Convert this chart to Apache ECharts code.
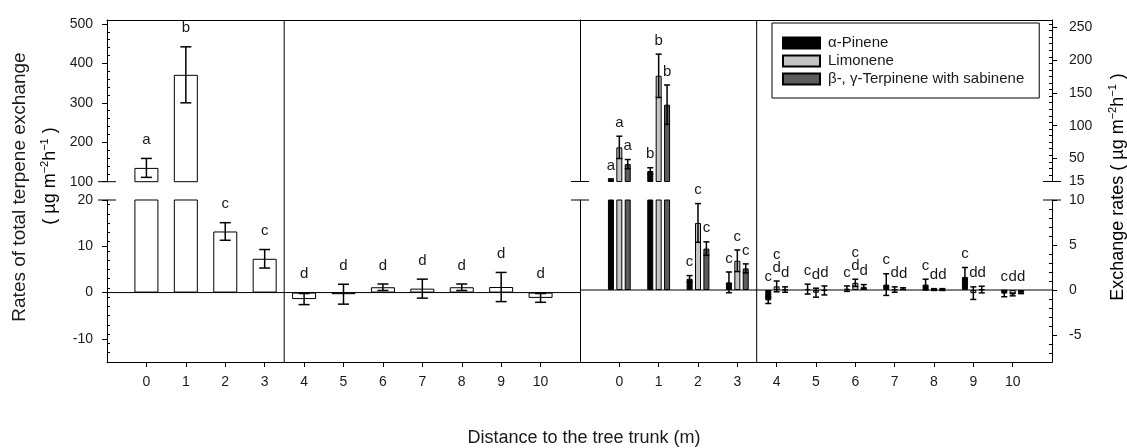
<!DOCTYPE html>
<html>
<head>
<meta charset="utf-8">
<title>Terpene exchange vs distance to the tree trunk</title>
<script src="https://cdn.jsdelivr.net/npm/echarts@6/dist/echarts.min.js"></script>
<style>
  html, body { margin: 0; padding: 0; background: #fff; }
  #chart { width: 1127px; height: 448px; }
</style>
</head>
<body>
<div id="chart"></div>
<script>
// distance to the tree trunk (m)
var distances = [0, 1, 2, 3, 4, 5, 6, 7, 8, 9, 10];

// left panel: total terpene exchange, mean and error
var totalMean = [135, 371, 13.2, 7.3, -1.4, -0.35, 1.15, 0.85, 1.15, 1.2, -1.15];
var totalErr = [24, 71, 1.9, 2.0, 1.2, 2.15, 0.7, 2.05, 0.7, 3.15, 0.95];
var totalLetters = ['a', 'b', 'c', 'c', 'd', 'd', 'd', 'd', 'd', 'd', 'd'];

// right panel: single compounds
var compounds = ['α-Pinene', 'Limonene', 'β-, γ-Terpinene with sabinene'];
var pineneMean = [18, 31, 1.25, 0.85, -1.15, 0.1, 0.15, 0.6, 0.6, 1.45, -0.4];
var pineneErr = [1, 5, 0.35, 1.15, 0.35, 0.55, 0.3, 1.2, 0.6, 1.05, 0.35];
var pineneLetters = ['a', 'b', 'c', 'c', 'c', 'c', 'c', 'c', 'c', 'c', 'c'];
var limoneneMean = [67, 176, 7.45, 3.25, 0.4, -0.3, 0.8, 0.05, 0.05, -0.35, -0.5];
var limoneneErr = [17, 33, 2.15, 1.2, 0.6, 0.5, 0.4, 0.3, 0.1, 0.7, 0.15];
var limoneneLetters = ['a', 'b', 'c', 'c', 'c\nd', 'd', 'c\nd', 'd', 'd', 'd', 'd'];
var terpineneMean = [41.5, 132, 4.6, 2.4, 0.05, -0.05, 0.35, 0.15, 0.05, 0.05, -0.3];
var terpineneErr = [7, 30, 0.75, 0.5, 0.3, 0.5, 0.25, 0.1, 0.1, 0.37, 0.1];
var terpineneLetters = ['a', 'b', 'c', 'c', 'd', 'd', 'd', 'd', 'd', 'd', 'd'];

// tick labels of the broken axes
var leftUpperTicks = [100, 200, 300, 400, 500];
var leftLowerTicks = [-10, 0, 10, 20];
var rightUpperTicks = [15, 50, 100, 150, 200, 250];
var rightLowerTicks = [-5, 0, 5, 10];

var FONT = '"Liberation Sans", Arial, sans-serif';
var INK = '#000';
var TEXT = '#1a1a1a';
var FILLS = ['#000000', '#c4c4c4', '#5c5c5c'];

var chart = echarts.init(document.getElementById('chart'));

function steps(a, b, step, skip) {
  var out = [];
  for (var v = a; v <= b + 1e-9; v += step) {
    var r = Math.round(v * 100) / 100;
    if (skip.indexOf(r) < 0) out.push(r);
  }
  return out;
}
function pairs(ys) { return distances.map(function (d, i) { return [d, ys[i]]; }); }
function triples(ys, es) { return distances.map(function (d, i) { return [d, ys[i], es[i]]; }); }
function seg(x1, y1, x2, y2, w) {
  return { type: 'line', shape: { x1: x1, y1: y1, x2: x2, y2: y2 }, style: { stroke: INK, lineWidth: w || 1 } };
}

// the four halves of the two panels (upper/lower part of each broken axis)
var halves = [
  { grid: 0, min: 100, max: 510, ticks: leftUpperTicks, minor: 20, pos: 'left', upper: true, lowerMax: 20 },
  { grid: 1, min: -15, max: 20, ticks: leftLowerTicks, minor: 2, pos: 'left', upper: false, lowerMax: 20 },
  { grid: 2, min: 15, max: 261, ticks: rightUpperTicks, minor: 10, pos: 'right', upper: true, lowerMax: 10 },
  { grid: 3, min: -8, max: 10, ticks: rightLowerTicks, minor: 1, pos: 'right', upper: false, lowerMax: 10 }
];

var grids = [
  { left: 107, top: 20, width: 473, height: 161.7 },
  { left: 107, top: 200, width: 473, height: 162 },
  { left: 580, top: 20, width: 472, height: 161.5 },
  { left: 580, top: 200, width: 472, height: 162 },
  { left: 107, top: 20, width: 945, height: 342 } // frame grid for group dividers
].map(function (g) { g.outerBoundsMode = 'none'; g.containLabel = false; return g; });

var xAxes = [];
var yAxes = [];
halves.forEach(function (h) {
  h.xi = xAxes.length;
  xAxes.push({
    type: 'value', gridIndex: h.grid, min: -1, max: 11,
    position: h.upper ? 'top' : 'bottom',
    axisLine: { show: true, onZero: false, lineStyle: { color: INK, width: 1 } },
    axisTick: { show: !h.upper, customValues: distances, length: 5, lineStyle: { color: INK } },
    axisLabel: { show: !h.upper, customValues: distances, margin: 13, fontSize: 14, color: TEXT, fontFamily: FONT },
    splitLine: { show: false }
  });
  h.yi = yAxes.length;
  yAxes.push({
    type: 'value', gridIndex: h.grid, position: h.pos, min: h.min, max: h.max,
    axisLine: { show: true, onZero: false, lineStyle: { color: INK, width: 1 } },
    axisTick: { show: true, customValues: h.ticks, length: 5, lineStyle: { color: INK } },
    axisLabel: { show: true, customValues: h.ticks, margin: h.pos === 'left' ? 14 : 17, fontSize: 14, color: TEXT, fontFamily: FONT },
    splitLine: { show: false }
  });
  yAxes.push({
    type: 'value', gridIndex: h.grid, position: h.pos, min: h.min, max: h.max,
    axisLine: { show: false, onZero: false },
    axisTick: { show: true, inside: true, length: 3, customValues: steps(h.min, h.max, h.minor, h.ticks), lineStyle: { color: INK } },
    axisLabel: { show: false },
    splitLine: { show: false }
  });
  if (h.pos === 'right') {
    // line between the two panels
    yAxes.push({
      type: 'value', gridIndex: h.grid, position: 'left', min: h.min, max: h.max,
      axisLine: { show: true, onZero: false, lineStyle: { color: INK, width: 1 } },
      axisTick: { show: false }, axisLabel: { show: false }, splitLine: { show: false }
    });
  }
});
var frameX = xAxes.length;
xAxes.push({ type: 'value', gridIndex: 4, min: -1, max: 23, show: false });
var frameY = yAxes.length;
yAxes.push({ type: 'value', gridIndex: 4, min: 0, max: 1, show: false });

function errorBars(offset, cap, letters, labelGap, h) {
  return function (params, api) {
    var x = api.value(0), m = api.value(1), e = api.value(2);
    var lo = m - e, hi = m + e;
    var cx = api.coord([x, 0])[0] + offset;
    var kids = [];
    var a = Math.max(lo, h.min), b = Math.min(hi, h.max);
    if (b > a) {
      var ya = api.coord([x, a])[1], yb = api.coord([x, b])[1];
      kids.push(seg(cx, ya, cx, yb, 1.5));
      if (hi <= h.max) kids.push(seg(cx - cap, yb, cx + cap, yb, 1.5));
      if (lo >= h.min) kids.push(seg(cx - cap, ya, cx + cap, ya, 1.5));
    }
    var top = Math.max(0, hi);
    if ((top > h.lowerMax) === h.upper) {
      var ty = api.coord([x, top])[1] - labelGap;
      kids.push({
        type: 'text',
        style: {
          text: letters[params.dataIndex], x: cx, y: ty, fill: TEXT,
          font: '15px ' + FONT, lineHeight: 13,
          align: 'center', verticalAlign: 'bottom',
          textAlign: 'center', textVerticalAlign: 'bottom'
        }
      });
    }
    return { type: 'group', children: kids };
  };
}

var series = [];

// left panel
[halves[0], halves[1]].forEach(function (h) {
  series.push({
    type: 'bar', name: 'Total', xAxisIndex: h.xi, yAxisIndex: h.yi, data: pairs(totalMean),
    barWidth: 24, clip: true, silent: true,
    itemStyle: { color: '#fff', borderColor: INK, borderWidth: 1 }
  });
  series.push({
    type: 'custom', xAxisIndex: h.xi, yAxisIndex: h.yi, data: triples(totalMean, totalErr),
    renderItem: errorBars(0, 5.5, totalLetters, 12, h), z: 4, silent: true
  });
});

// right panel
var means = [pineneMean, limoneneMean, terpineneMean];
var errs = [pineneErr, limoneneErr, terpineneErr];
var letters = [pineneLetters, limoneneLetters, terpineneLetters];
[halves[2], halves[3]].forEach(function (h) {
  compounds.forEach(function (name, k) {
    series.push({
      type: 'bar', name: name, xAxisIndex: h.xi, yAxisIndex: h.yi, data: pairs(means[k]),
      barWidth: 6, barGap: '40%', clip: true, silent: true,
      itemStyle: { color: FILLS[k], borderColor: INK, borderWidth: 1 }
    });
  });
  compounds.forEach(function (name, k) {
    series.push({
      type: 'custom', xAxisIndex: h.xi, yAxisIndex: h.yi, data: triples(means[k], errs[k]),
      renderItem: errorBars((k - 1) * 8.4, 3, letters[k], 7, h), z: 4, silent: true
    });
  });
});

// axis breaks and zero lines
halves.forEach(function (h) {
  var capXs = h.pos === 'left' ? [-1] : [-1, 11];
  var capY = h.upper ? h.min : h.max;
  series.push({
    type: 'custom', xAxisIndex: h.xi, yAxisIndex: h.yi, data: [[0, 0]], silent: true, z: 5,
    renderItem: function (params, api) {
      var kids = capXs.map(function (cx) {
        var p = api.coord([cx, capY]);
        return seg(p[0] - 9, p[1], p[0] + 9, p[1], 1);
      });
      if (!h.upper) {
        var p0 = api.coord([-1, 0]), p1 = api.coord([11, 0]);
        kids.push(seg(p0[0], p0[1], p1[0], p1[1], 1));
      }
      return { type: 'group', children: kids };
    }
  });
});

// dividers between distances 0-3 and 4-10 in both panels
var splitAfter = 3;
series.push({
  type: 'custom', xAxisIndex: frameX, yAxisIndex: frameY, silent: true, z: 5,
  data: [[splitAfter + 0.5], [splitAfter + 0.5 + 12]],
  renderItem: function (params, api) {
    var x = api.value(0);
    var p0 = api.coord([x, 0]), p1 = api.coord([x, 1]);
    return seg(p0[0], p0[1], p1[0], p1[1], 1);
  }
});

var unitRich = {
  t: { fontSize: 18, fontFamily: FONT, color: TEXT, lineHeight: 22 },
  s: { fontSize: 11, fontFamily: FONT, color: TEXT, verticalAlign: 'top', lineHeight: 22 }
};

chart.setOption({
  animation: false,
  backgroundColor: '#fff',
  textStyle: { fontFamily: FONT },
  grid: grids,
  xAxis: xAxes,
  yAxis: yAxes,
  legend: {
    data: compounds, orient: 'vertical', left: 772, top: 23,
    padding: [12, 15, 11, 10], itemWidth: 37, itemHeight: 11, itemGap: 2,
    borderColor: INK, borderWidth: 1, icon: 'rect', selectedMode: false,
    textStyle: { fontFamily: FONT, fontSize: 15, color: TEXT, lineHeight: 16, padding: [0, 0, 0, 3] }
  },
  graphic: [
    {
      type: 'text', x: 20, y: 187, rotation: Math.PI / 2,
      style: { text: 'Rates of total terpene exchange', font: '19px ' + FONT, fill: TEXT,
        align: 'center', verticalAlign: 'middle', textAlign: 'center', textVerticalAlign: 'middle' }
    },
    {
      type: 'text', x: 50, y: 176, rotation: Math.PI / 2,
      style: { text: '{t|( µg m}{s|−2}{t|h}{s|−1}{t| )}', rich: unitRich,
        align: 'center', verticalAlign: 'middle', textAlign: 'center', textVerticalAlign: 'middle' }
    },
    {
      type: 'text', x: 1118, y: 187, rotation: Math.PI / 2,
      style: { text: '{t|Exchange rates ( µg m}{s|−2}{t|h}{s|−1}{t| )}', rich: unitRich,
        align: 'center', verticalAlign: 'middle', textAlign: 'center', textVerticalAlign: 'middle' }
    },
    {
      type: 'text', x: 584, y: 438,
      style: { text: 'Distance to the tree trunk (m)', font: '18px ' + FONT, fill: TEXT,
        align: 'center', verticalAlign: 'middle', textAlign: 'center', textVerticalAlign: 'middle' }
    }
  ],
  series: series
});
</script>
</body>
</html>
